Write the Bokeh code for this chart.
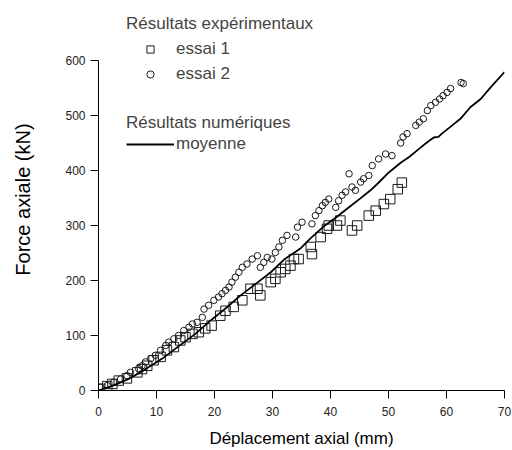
import math
from bokeh.plotting import figure
from bokeh.layouts import row
from bokeh.models import Range1d, FixedTicker, Legend, LegendItem
from bokeh.core.properties import value
from bokeh.embed import file_html
from bokeh.resources import INLINE

# ---- data ----
essai1_x = [0.3, 1.5, 2.4, 3.5, 4.9, 6.7, 7.5, 8.4, 9.5, 10.7, 11.8, 13.0, 14.1, 15.0, 16.2,
            17.3, 18.4, 19.5, 21.0, 21.9, 23.3, 24.8, 26.2, 27.4, 27.9, 29.7, 30.5, 31.4, 32.2,
            33.1, 33.7, 34.5, 36.6, 36.8, 38.3, 39.4, 39.7, 41.1, 41.7, 43.7, 44.6, 46.6, 47.8,
            49.2, 50.3, 51.6, 52.3]
essai1_y = [3, 8, 12, 18, 22, 33, 39, 45, 55, 61, 73, 79, 91, 97, 103,
            106, 113, 118, 136, 145, 152, 164, 185, 185, 173, 197, 203, 215, 221,
            227, 239, 239, 261, 248, 279, 294, 300, 300, 309, 291, 300, 318, 327,
            339, 348, 366, 378]

essai2_x = [0.3, 1.5, 2.6, 3.8, 4.9, 5.5, 6.9, 7.5, 8.1, 9.0, 9.8, 10.7, 11.6, 12.1, 13.0,
            13.8, 14.7, 15.6, 16.2, 17.0, 17.9, 18.2, 19.0, 19.9, 20.7, 21.3, 21.9, 22.5, 23.0,
            23.6, 24.2, 24.8, 25.6, 26.5, 27.4, 27.9, 28.5, 29.1, 29.9, 30.5, 31.1, 31.7, 32.5,
            34.0, 34.3, 35.1, 36.8, 37.4, 38.0, 38.6, 39.1, 39.7, 40.9, 41.4, 42.0, 42.6, 43.2,
            43.7, 44.3, 45.2, 45.7, 46.6, 47.2, 48.3, 49.5, 50.6, 52.1, 52.5, 53.2, 54.7, 55.3,
            56.0, 56.7, 57.3, 58.1, 58.8, 59.4, 60.1, 60.7, 62.5, 62.9]
essai2_y = [6, 9, 15, 21, 27, 33, 40, 45, 52, 58, 64, 73, 82, 88, 94,
            100, 109, 115, 121, 124, 133, 148, 155, 164, 170, 176, 182, 188, 197,
            206, 215, 224, 230, 239, 245, 224, 233, 242, 239, 251, 261, 273, 282,
            279, 297, 306, 303, 318, 327, 336, 342, 348, 333, 345, 355, 361, 394,
            370, 364, 379, 385, 391, 409, 421, 430, 427, 450, 461, 467, 482, 488,
            494, 509, 518, 524, 530, 536, 542, 549, 560, 558]

moyenne_x = [0, 2.5, 5.2, 8, 11, 13.5, 16.7, 19.3, 22, 24.5, 27, 29.7, 32, 34.8, 36.5, 38.8,
             41, 43.4, 45, 46.9, 48.5, 50, 52.1, 53.5, 55, 56.5, 57.8, 58.6, 59.2, 60.5, 62.4,
             64.1, 65.9, 67.6, 70]
moyenne_y = [0, 9, 21, 38, 58, 78, 103, 127, 150, 173, 193, 215, 238, 258, 276, 298,
             315, 335, 348, 364, 380, 396, 414, 424, 437, 450, 460, 461, 467, 478, 494,
             515, 530, 551, 579]

x_ticks = [0, 10, 20, 30, 40, 50, 60, 70]
y_ticks = [0, 100, 200, 300, 400, 500, 600]

x_title = "Déplacement axial (mm)"
y_title = "Force axiale (kN)"

FONT = "Liberation Sans"
Y_MAX = 600
FRAME_H = 382          # frame spans from the top of the legend down to y = 0
AXIS_H = 330           # pixels used by 0..600
H = 450
TITLE_W = 40           # narrow strip holding the vertical axis title

# ---- strip with the vertical axis title ----
side = figure(width=TITLE_W, height=H, output_backend="svg", toolbar_location=None,
              x_range=Range1d(0, TITLE_W), y_range=Range1d(0, H),
              min_border=0, x_axis_location=None, y_axis_location=None)
side.outline_line_color = None
side.grid.visible = False
side.text(x=[22], y=[H - 225], text=[y_title], angle=math.pi / 2,
          text_align="center", text_baseline="middle",
          text_font=value(FONT), text_font_size="20px", text_color="black")

# ---- main chart ----
p = figure(width=512 - TITLE_W, height=H, output_backend="svg", toolbar_location=None,
           x_range=Range1d(0, 70), y_range=Range1d(0, Y_MAX * FRAME_H / AXIS_H),
           min_border_left=98 - TITLE_W, min_border_right=8, min_border_top=8,
           min_border_bottom=60)
p.outline_line_color = None
p.grid.visible = False
p.background_fill_color = "white"

r1 = p.scatter(essai1_x, essai1_y, marker="square", size=9.5, fill_color=None,
               line_color="#1a1a1a", line_width=1)
r2 = p.scatter(essai2_x, essai2_y, marker="circle", size=6.5, fill_color=None,
               line_color="#1a1a1a", line_width=1)
r3 = p.line(moyenne_x, moyenne_y, line_color="black", line_width=1.8)

for ax in (p.xaxis[0], p.yaxis[0]):
    ax.axis_line_color = "black"
    ax.axis_line_width = 1
    ax.major_tick_out = 8
    ax.major_tick_in = 0
    ax.major_tick_line_color = "black"
    ax.minor_tick_line_color = None
    ax.major_label_text_font = FONT
    ax.major_label_text_font_size = "12px"
    ax.major_label_text_color = "#222222"
    ax.axis_label_text_font = FONT
    ax.axis_label_text_font_style = "normal"
    ax.axis_label_text_color = "black"

p.xaxis[0].ticker = FixedTicker(ticks=x_ticks)
p.yaxis[0].ticker = FixedTicker(ticks=y_ticks)
p.yaxis[0].bounds = (0, Y_MAX)
p.xaxis[0].axis_label = x_title
p.xaxis[0].axis_label_text_font_size = "17px"
p.xaxis[0].major_label_standoff = 8
p.xaxis[0].axis_label_standoff = 10
p.yaxis[0].major_label_standoff = 5

common = dict(border_line_color=None, background_fill_alpha=0, padding=0, margin=0,
              spacing=0, glyph_height=18, glyph_width=48, label_standoff=2,
              label_text_font=FONT, label_text_font_size="17px",
              title_text_font=FONT, title_text_font_size="17px",
              title_text_font_style="normal")

leg1 = Legend(items=[LegendItem(label="essai 1", renderers=[r1]),
                     LegendItem(label="essai 2", renderers=[r2])],
              title="Résultats expérimentaux", location=(28, 303.5),
              label_height=25, title_standoff=3, **common)
leg2 = Legend(items=[LegendItem(label="moyenne", renderers=[r3])],
              title="Résultats numériques", location=(28, 235.5),
              label_height=21, title_standoff=1, **common)
p.add_layout(leg1)
p.add_layout(leg2)

layout = row(side, p, spacing=0)
open("out.html", "w").write(file_html(layout, INLINE))
